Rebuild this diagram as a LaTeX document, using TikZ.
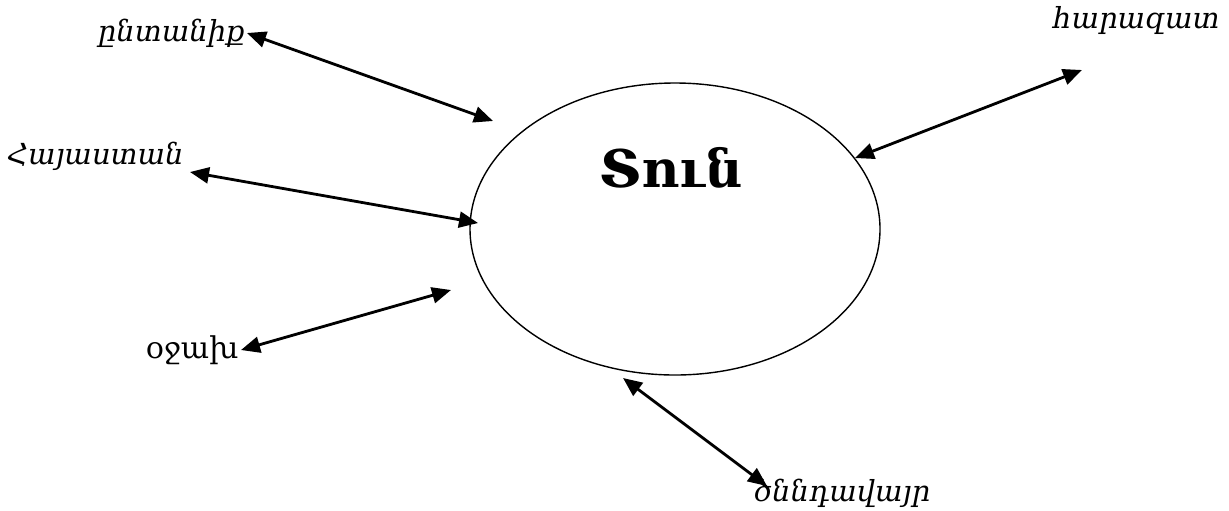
\documentclass[tikz,border=0pt]{standalone}
\usepackage{fontspec}
\setmainfont{DejaVu Serif}
\usetikzlibrary{arrows.meta,positioning,shapes.geometric}

\begin{document}
\begin{tikzpicture}[
    x=0.5pt, y=-0.5pt,
    word/.style={inner sep=1pt, font=\itshape\fontsize{14.5}{17}\selectfont},
    arr/.style={{Triangle[length=9.5pt,width=8pt]}-{Triangle[length=9.5pt,width=8pt]}, line width=1.4pt}
]
\useasboundingbox (0,0) rectangle (1229,510);

\node[ellipse, draw=black, line width=0.7pt, minimum width=205pt, minimum height=146pt, inner sep=0pt] (home) at (675,229) {};
\node[font=\bfseries\fontsize{26}{30}\selectfont] (homeword) at (671,168) {Տուն};

\node[word, anchor=east] (family) at (247,33) {ընտանիք};
\node[word, anchor=east] (armenia) at (186,156) {Հայաստան};
\node[word, anchor=east, font=\fontsize{15}{17}\selectfont] (hearth) at (241,350) {օջախ};
\node[word, anchor=west] (birthplace) at (752,493) {ծննդավայր};
\node[word, anchor=east] (relative) at (1222,20) {հարազատ};

\coordinate (familyend) at (493,121);
\coordinate (armeniaend) at (478,223);
\coordinate (hearthend) at (451,290);
\coordinate (birthend) at (623,378);
\coordinate (relativeend) at (855,158);
\coordinate (relativetip) at (1082,70);
\coordinate (armeniatip) at (190,172);
\coordinate (birthtip) at (767,486);

\draw[arr] (family.east) -- (familyend);
\draw[arr] (armeniatip) -- (armeniaend);
\draw[arr] (hearth.east) -- (hearthend);
\draw[arr] (birthend) -- (birthtip);
\draw[arr] (relativeend) -- (relativetip);
\end{tikzpicture}
\end{document}
